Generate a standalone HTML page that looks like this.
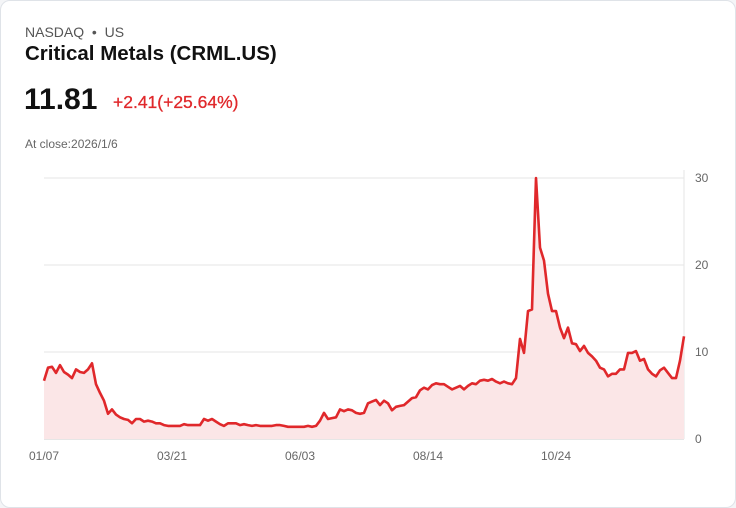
<!DOCTYPE html>
<html><head><meta charset="utf-8"><style>
body{margin:0;background:#f4f5f7;font-family:"Liberation Sans",sans-serif;}
#card{position:absolute;left:0;top:0;width:734px;height:506px;background:#fff;border:1px solid #dfe3e8;border-radius:10px;}
.t{position:absolute;white-space:nowrap;}
</style></head><body>
<div id="card">
<div class="t" style="left:24px;top:23px;font-size:14px;color:#555">NASDAQ &nbsp;•&nbsp; US</div>
<div class="t" style="left:24px;top:41px;font-size:20.5px;font-weight:bold;color:#111">Critical Metals (CRML.US)</div>
<div class="t" style="left:23px;top:82px;font-size:30px;font-weight:bold;color:#111">11.81</div>
<div class="t" style="left:112px;top:91px;font-size:17.5px;color:#e0282b;-webkit-text-stroke:0.3px #e0282b">+2.41(+25.64%)</div>
<div class="t" style="left:24px;top:136px;font-size:12px;color:#666">At close:2026/1/6</div>
<svg id="chart" width="736" height="508" style="position:absolute;left:-1px;top:-1px"></svg>
</div>
<script>
const values=[6.7,8.2,8.3,7.6,8.5,7.7,7.4,7.0,8.0,7.7,7.6,8.0,8.7,6.3,5.3,4.4,2.9,3.4,2.8,2.5,2.3,2.2,1.8,2.3,2.3,2.0,2.1,2.0,1.8,1.8,1.6,1.5,1.5,1.5,1.5,1.7,1.6,1.6,1.6,1.6,2.3,2.1,2.3,2.0,1.7,1.5,1.8,1.8,1.8,1.6,1.7,1.6,1.5,1.6,1.5,1.5,1.5,1.5,1.6,1.6,1.5,1.4,1.4,1.4,1.4,1.4,1.5,1.4,1.5,2.1,3.0,2.3,2.4,2.5,3.4,3.2,3.4,3.3,3.0,2.9,3.0,4.1,4.3,4.5,3.9,4.4,4.1,3.3,3.7,3.8,3.9,4.3,4.7,4.8,5.6,5.9,5.7,6.2,6.4,6.3,6.3,6.0,5.7,5.9,6.1,5.7,6.1,6.4,6.3,6.7,6.8,6.7,6.9,6.6,6.4,6.6,6.4,6.3,7.0,11.5,9.9,14.7,14.9,30,22,20.5,16.7,14.7,14.7,12.8,11.6,12.8,11.0,10.9,10.1,10.7,9.9,9.5,9.0,8.2,8.0,7.2,7.5,7.5,8.0,8.0,9.9,9.9,10.1,9.0,9.2,8.0,7.5,7.2,7.9,8.2,7.6,7.0,7.0,9.0,11.81];
const yTicks=[0,10,20,30];
const xLabels=["01/07","03/21","06/03","08/14","10/24"];
const xLabelIdx=[0,32,64,96,128];
const NS="http://www.w3.org/2000/svg",svg=document.getElementById('chart');
const X0=44,X1=684,Y0=439,Y1=178,VMAX=30;
const xs=i=>X0+(X1-X0)*i/(values.length-1);
const ys=v=>Y0-(Y0-Y1)*v/VMAX;
function mk(t,a){const e=document.createElementNS(NS,t);for(const k in a)e.setAttribute(k,a[k]);svg.appendChild(e);return e;}
yTicks.forEach(v=>{
 const l=mk('line',{x1:X0,x2:X1,y1:ys(v),y2:ys(v),stroke:v===0?'#ccc':'#e6e6e6','stroke-width':1});
 
 
 const t=mk('text',{x:695,y:ys(v)+4,'font-size':12,fill:'#666','font-family':'Liberation Sans, sans-serif'});
 t.textContent=v;
 
 
});
const vl=mk('line',{x1:X1,x2:X1,y1:170,y2:Y0,stroke:'#e6e6e6'});


let d=values.map((v,i)=>(i?'L':'M')+xs(i).toFixed(1)+','+ys(v).toFixed(1)).join('');
const area=mk('path',{d:d+'L'+X1+','+Y0+'L'+X0+','+Y0+'Z',fill:'#fbe6e7'});


const line=mk('path',{d:d,fill:'none',stroke:'#e0282b','stroke-width':2.6,'stroke-linejoin':'round'});


xLabels.forEach((s,k)=>{
 const t=mk('text',{x:xs(xLabelIdx[k]),y:460,'font-size':12,fill:'#666','text-anchor':'middle','font-family':'Liberation Sans, sans-serif'});
 t.textContent=s;
 
 
});
</script>
</body></html>
